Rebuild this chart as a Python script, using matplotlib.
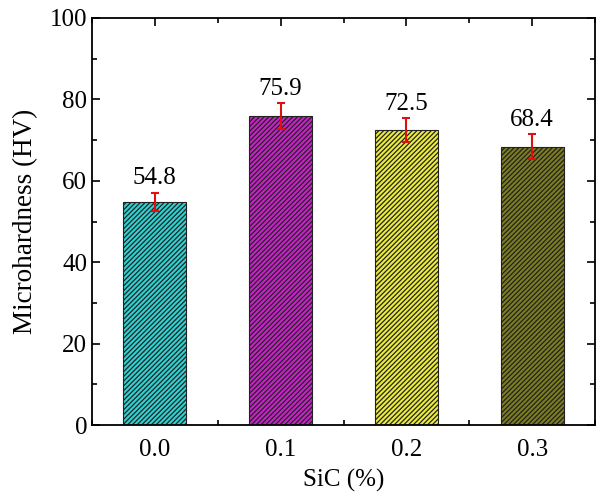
import numpy as np
import matplotlib.pyplot as plt
from matplotlib.ticker import MultipleLocator

# Data
sic = [0.0, 0.1, 0.2, 0.3]
hardness = [54.8, 75.9, 72.5, 68.4]
errors = [2.3, 3.2, 2.9, 3.0]
colors = ['#2ed2d2', '#c822c8', '#ecec3c', '#7c7c20']
tick_labels = ['0.0', '0.1', '0.2', '0.3']

plt.rcParams['font.family'] = ['Liberation Serif', 'DejaVu Serif']
plt.rcParams['hatch.linewidth'] = 0.9

fig = plt.figure(figsize=(6.02, 4.99), dpi=100)
ax = fig.add_axes([92/602, 1 - 425/499, (595-92)/602, (425-18)/499])

ax.bar(sic, hardness, width=0.05, color=colors, edgecolor='#222222',
       hatch='///////', linewidth=0.8, zorder=2)
ax.errorbar(sic, hardness, yerr=errors, fmt='none', ecolor='#e01010',
            elinewidth=1.5, capsize=3, capthick=1.5, zorder=3)

for x, h, e in zip(sic, hardness, errors):
    ax.text(x, h + e + 0.8, f'{h:.1f}', ha='center', va='bottom', fontsize=18)

ax.set_xlim(-0.05, 0.35)
ax.set_ylim(0, 100)
ax.set_xticks(sic)
ax.set_xticklabels(tick_labels)
ax.xaxis.set_minor_locator(MultipleLocator(0.05))
ax.yaxis.set_major_locator(MultipleLocator(20))
ax.yaxis.set_minor_locator(MultipleLocator(10))
ax.tick_params(which='both', direction='in', top=True, right=True,
               labelsize=18, width=1.2)
ax.tick_params(axis='x', pad=10)
ax.tick_params(which='major', length=6)
ax.tick_params(which='minor', length=3.5)
for s in ax.spines.values():
    s.set_linewidth(1.3)

ax.set_xlabel('SiC (%)', fontsize=18, labelpad=6)
ax.set_ylabel('Microhardness (HV)', fontsize=19.5, labelpad=8)

fig.savefig('out.png', dpi=100)
